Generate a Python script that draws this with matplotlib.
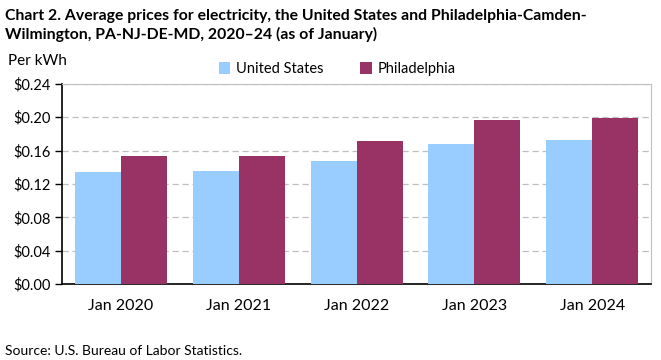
import numpy as np
import matplotlib.pyplot as plt
from matplotlib.ticker import FuncFormatter

plt.rcParams['font.family'] = ['Lato', 'DejaVu Sans']

# Data
categories = ['Jan 2020', 'Jan 2021', 'Jan 2022', 'Jan 2023', 'Jan 2024']
us_prices = [0.134, 0.136, 0.147, 0.168, 0.173]
phl_prices = [0.153, 0.154, 0.172, 0.197, 0.199]
yticks = [0.00, 0.04, 0.08, 0.12, 0.16, 0.20, 0.24]

us_color = '#99CCFF'
phl_color = '#993366'

fig = plt.figure(figsize=(6.61, 3.6), dpi=100)
ax = fig.add_axes([0.094, 0.211, 0.891, 0.556])

x = np.arange(len(categories))
w = 0.39
ax.bar(x - w/2, us_prices, w, color=us_color, label='United States', zorder=3)
ax.bar(x + w/2, phl_prices, w, color=phl_color, label='Philadelphia', zorder=3)

ax.set_ylim(0, 0.24)
ax.set_xlim(-0.5, len(categories) - 0.5)
ax.set_yticks(yticks)
ax.yaxis.set_major_formatter(FuncFormatter(lambda v, p: '$%.2f' % v))
ax.set_xticks(x)
ax.set_xticklabels(categories)
ax.tick_params(axis='x', length=0, pad=11, labelsize=11.5)
ax.tick_params(axis='y', length=5, width=1, direction='out', labelsize=10.5, pad=3)

ax.grid(axis='y', color='#BFBFBF', linestyle=(0, (5, 3)), linewidth=0.9, zorder=0)
for s in ['top', 'right']:
    ax.spines[s].set_color('#BFBFBF')
for s in ['left', 'bottom']:
    ax.spines[s].set_color('black')
    ax.spines[s].set_linewidth(1.2)

fig.text(0.008, 0.975, 'Chart 2. Average prices for electricity, the United States and Philadelphia-Camden-\nWilmington, PA-NJ-DE-MD, 2020\u201324 (as of January)',
         ha='left', va='top', fontsize=11.3, fontweight='bold', linespacing=1.3)
fig.text(0.012, 0.83, 'Per kWh', ha='left', va='center', fontsize=11)
fig.text(0.008, 0.025, 'Source: U.S. Bureau of Labor Statistics.', ha='left', va='center', fontsize=10)

fig.legend(loc='center', bbox_to_anchor=(0.51, 0.808), ncol=2, frameon=False,
           fontsize=10.5, handlelength=0.8, handleheight=0.8, columnspacing=2.5,
           handletextpad=0.4)

fig.savefig('out.png', dpi=100)
